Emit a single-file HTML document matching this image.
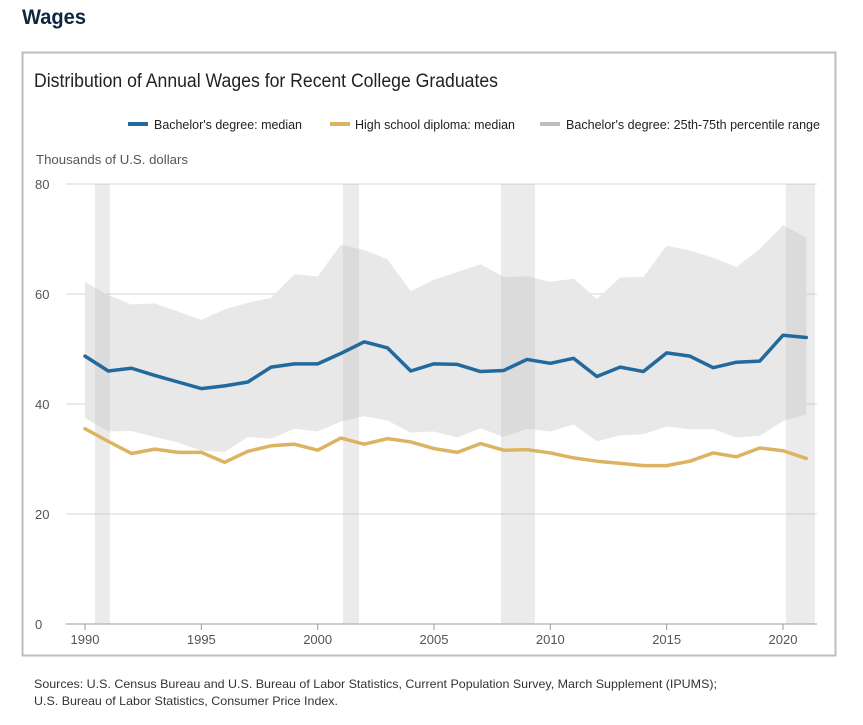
<!DOCTYPE html>
<html><head><meta charset="utf-8"><style>
html,body{margin:0;padding:0;background:#fff;}
svg{display:block;font-family:"Liberation Sans",sans-serif;}
</style></head><body>
<svg id="chart" width="863" height="725" viewBox="0 0 863 725">
<text x="22" y="24" font-size="21" font-weight="bold" fill="#10253f" textLength="64" lengthAdjust="spacingAndGlyphs">Wages</text>
<rect x="22.5" y="52.5" width="813" height="603" fill="none" stroke="#bdbdbd" stroke-width="2"/>
<text x="34" y="87" font-size="19" fill="#222" textLength="464" lengthAdjust="spacingAndGlyphs">Distribution of Annual Wages for Recent College Graduates</text>
<g>
 <g><rect x="128" y="122" width="20" height="4" fill="#22699e"/><text x="154" y="129" font-size="12.5" fill="#222" textLength="148" lengthAdjust="spacingAndGlyphs">Bachelor's degree: median</text></g>
 <g><rect x="330" y="122" width="20" height="4" fill="#dcb461"/><text x="355" y="129" font-size="12.5" fill="#222" textLength="160" lengthAdjust="spacingAndGlyphs">High school diploma: median</text></g>
 <g><rect x="540" y="122" width="20" height="4" fill="#bdbdbd"/><text x="566" y="129" font-size="12.5" fill="#222" textLength="254" lengthAdjust="spacingAndGlyphs">Bachelor's degree: 25th-75th percentile range</text></g>
</g>
<text x="36" y="164" font-size="13" fill="#555" textLength="152" lengthAdjust="spacingAndGlyphs">Thousands of U.S. dollars</text>
<g id="plot"></g>
<text x="34" y="688" font-size="12" fill="#333" textLength="683" lengthAdjust="spacingAndGlyphs">Sources: U.S. Census Bureau and U.S. Bureau of Labor Statistics, Current Population Survey, March Supplement (IPUMS);</text>
<text x="34" y="705" font-size="12" fill="#333" textLength="304" lengthAdjust="spacingAndGlyphs">U.S. Bureau of Labor Statistics, Consumer Price Index.</text>
</svg>
<script>
const years=[1990,1991,1992,1993,1994,1995,1996,1997,1998,1999,2000,2001,2002,2003,2004,2005,2006,2007,2008,2009,2010,2011,2012,2013,2014,2015,2016,2017,2018,2019,2020,2021];
const bachelorMedian=[48.7,46.0,46.5,45.2,44.0,42.8,43.3,44.0,46.7,47.3,47.3,49.2,51.3,50.2,46.0,47.3,47.2,45.9,46.1,48.1,47.4,48.3,45.0,46.7,45.9,49.3,48.7,46.6,47.6,47.8,52.5,52.1];
const highSchoolMedian=[35.5,33.2,31.0,31.8,31.2,31.2,29.4,31.4,32.4,32.7,31.6,33.8,32.7,33.7,33.1,31.9,31.2,32.8,31.6,31.7,31.1,30.2,29.6,29.2,28.8,28.8,29.6,31.1,30.4,32.0,31.5,30.1];
const upper75=[62.2,59.8,58.1,58.3,56.8,55.3,57.2,58.4,59.3,63.6,63.2,69.0,68.0,66.3,60.5,62.6,64.0,65.4,63.1,63.2,62.2,62.8,59.1,63.0,63.1,68.8,67.9,66.6,64.9,68.2,72.5,70.3];
const lower25=[37.4,35.0,35.1,34.0,33.0,31.5,31.3,34.0,33.7,35.5,35.0,36.8,37.8,37.0,34.8,35.0,33.9,35.6,34.0,35.5,35.0,36.3,33.2,34.3,34.5,35.9,35.4,35.4,33.9,34.2,36.9,38.1];
const recessionStart=[1990.43,2001.09,2007.88,2020.12];
const recessionEnd=[1991.07,2001.78,2009.34,2021.37];
const yTicks=[0,20,40,60,80];
const xTicks=[1990,1995,2000,2005,2010,2015,2020];

const NS="http://www.w3.org/2000/svg";
const plot=document.getElementById('plot');
const x=v=>85+(v-1990)*(698/30);
const y=v=>624-v*5.5;
function mk(t,a){const e=document.createElementNS(NS,t);for(const k in a)e.setAttribute(k,a[k]);plot.appendChild(e);return e;}

yTicks.forEach(t=>{
 const l=mk('line',{x1:66,x2:817,y1:y(t),y2:y(t),stroke:t===0?'#999':'#d6d6d6','stroke-width':1});
 
 
 const tx=mk('text',{x:35,y:y(t)+5,'font-size':13,fill:'#555'});tx.textContent=t;
 
 
});
let pts=years.map((yr,i)=>x(yr)+','+y(upper75[i]));
for(let i=years.length-1;i>=0;i--)pts.push(x(years[i])+','+y(lower25[i]));
const band=mk('polygon',{points:pts.join(' '),fill:'#e8e8e8'});


recessionStart.forEach((s,i)=>{
 const r=mk('rect',{x:x(s),y:y(80),width:x(recessionEnd[i])-x(s),height:y(0)-y(80),fill:'#bdbdbd','fill-opacity':0.3});
 
 
});
function line(arr,color,name){
 const p=mk('polyline',{points:years.map((yr,i)=>x(yr)+','+y(arr[i])).join(' '),fill:'none',stroke:color,'stroke-width':3.5,'stroke-linejoin':'round','stroke-linecap':'round'});
 
 
}
line(highSchoolMedian,'#dcb461','highschool-median-line');
line(bachelorMedian,'#22699e','bachelor-median-line');
xTicks.forEach(t=>{
 const tk=mk('line',{x1:x(t),x2:x(t),y1:624,y2:630,stroke:'#999'});
 
 
 const tx=mk('text',{x:x(t),y:644,'font-size':13,fill:'#555','text-anchor':'middle'});tx.textContent=t;
 
 
});
</script>
</body></html>
